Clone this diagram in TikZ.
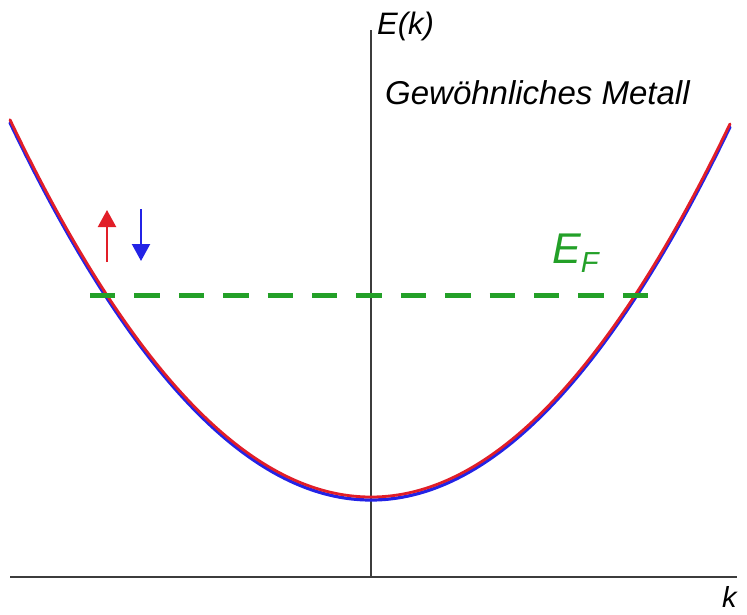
\documentclass[tikz,border=0pt]{standalone}
\usepackage{fontspec}
\setmainfont{Liberation Sans}
\usetikzlibrary{arrows.meta}
\definecolor{axisgray}{RGB}{60,60,60}
\definecolor{bandred}{RGB}{225,30,40}
\definecolor{bandblue}{RGB}{35,35,230}
\definecolor{fermigreen}{RGB}{35,160,40}
\tikzset{
  axisline/.style={draw=axisgray, line width=1.4pt},
  label/.style={inner sep=0pt, font=\itshape},
  spinarrow/.style={line width=2.2pt, -{Triangle[length=17pt,width=18pt]}},
  fermiline/.style={draw=fermigreen, line width=5pt, dash pattern=on 25.4pt off 19pt},
}
\begin{document}
\begin{tikzpicture}[x=1pt,y=-1pt]
\useasboundingbox (0,0) rectangle (747,614);
% axes
\coordinate (yb) at (371,577);
\coordinate (yt) at (371,30);
\coordinate (xl) at (10,577);
\coordinate (xr) at (737,577);
\draw[axisline] (yb) -- (yt);
\draw[axisline] (xl) -- (xr);
\node[label, anchor=base west, font=\itshape\fontsize{31}{34}\selectfont] (Ek) at (377,34) {E(k)};
\node[label, anchor=base west, font=\itshape\fontsize{29}{30}\selectfont] (k) at (722,607) {k};
\node[label, anchor=base west, font=\itshape\fontsize{33}{36}\selectfont] (title) at (385,104) {Gewöhnliches Metall};
% bands
\draw[bandblue, line width=3.2pt, line cap=round] plot[domain=-361:359, samples=120, smooth] ({371+\x}, {500-28.95*(\x/100)*(\x/100)});
\draw[bandred, line width=2.8pt, line cap=round] plot[domain=-361:359, samples=120, smooth] ({371+\x}, {497-28.95*(\x/100)*(\x/100)});
% Fermi level
\coordinate (fl) at (90,295);
\coordinate (fr) at (648,295);
\draw[fermiline] (fl) -- (fr);
\node[label, anchor=base west, text=fermigreen, font=\itshape\fontsize{43}{46}\selectfont] (EF) at (552,263) {E\raisebox{-9pt}{\fontsize{29}{30}\selectfont F}};
% spin arrows
\coordinate (ua) at (107,262);
\coordinate (ub) at (107,210);
\coordinate (da) at (141,209);
\coordinate (db) at (141,261);
\draw[spinarrow, bandred] (ua) -- (ub);
\draw[spinarrow, bandblue] (da) -- (db);
\end{tikzpicture}
\end{document}
